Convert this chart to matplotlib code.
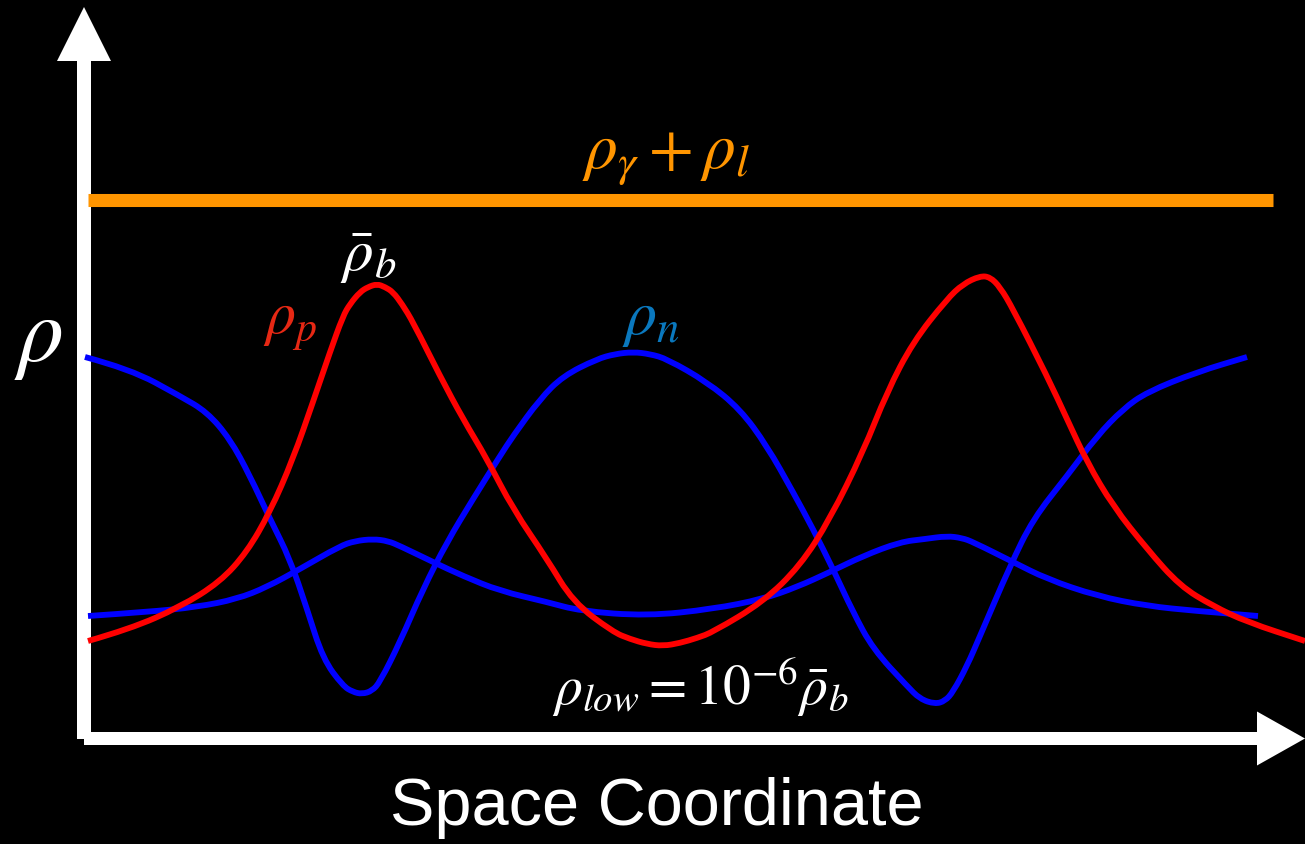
import matplotlib
matplotlib.use("Agg")
import matplotlib.pyplot as plt
from matplotlib.path import Path
from matplotlib.patches import PathPatch

plt.rcParams['mathtext.fontset'] = 'stix'

# positions along the space coordinate and densities (arbitrary units)
x_p = [4, 46, 96, 136, 163, 186, 209, 229, 246, 259, 266, 276, 284, 293, 301, 309,
       318, 329, 356, 379, 403, 429, 463, 489, 529, 546, 563, 579, 596, 613, 629,
       679, 716, 746, 779, 803, 829, 863, 879, 896, 906, 916, 929, 963, 983, 1003,
       1029, 1063, 1096, 1129, 1163, 1221]
rho_p = [98, 110, 132, 157, 187, 227, 280, 337, 387, 423, 435, 447, 452, 455, 452, 447,
         435, 417, 363, 320, 280, 230, 180, 137, 107, 100, 95, 93, 96, 101, 107,
         137, 173, 220, 287, 347, 397, 440, 455, 463, 462, 452, 430, 363, 320, 277,
         233, 190, 153, 133, 117, 98]

x_n = [1, 46, 96, 123, 146, 166, 186, 206, 223, 239, 259, 269, 278, 288, 296, 316,
       339, 363, 389, 416, 429, 456, 479, 513, 531, 549, 566, 583, 623, 656, 683,
       709, 729, 749, 769, 789, 823, 836, 851, 861, 869, 883, 896, 926, 949, 983,
       1013, 1039, 1063, 1113, 1163]
rho_n = [382, 370, 343, 327, 300, 263, 220, 180, 130, 80, 53, 47, 45, 48, 57, 97,
         150, 197, 240, 283, 303, 340, 363, 380, 385, 387, 385, 380, 357, 330, 293,
         247, 210, 170, 127, 90, 53, 40, 35, 38, 47, 73, 103, 173, 220, 263,
         303, 330, 347, 367, 382]

x_n2 = [4, 63, 113, 153, 183, 216, 256, 271, 289, 304, 316, 349, 379, 416, 463, 496,
        563, 629, 679, 713, 746, 779, 816, 841, 863, 878, 889, 929, 963, 1013, 1063,
        1113, 1174]
rho_n2 = [123, 127, 132, 140, 152, 170, 193, 198, 200, 198, 193, 177, 163, 148, 137, 128,
          123, 130, 140, 152, 167, 183, 197, 200, 203, 201, 197, 177, 160, 143, 133,
          128, 123]

# radiation + lepton density, constant in space
x_rad = [4, 1189]
rho_rad = 539


def smooth_line(ax, xs, ys, color, lw):
    # quadratic curve through the midpoints, so the polyline has no corners
    pts = list(zip(xs, ys))
    verts = [pts[0]]
    codes = [Path.MOVETO]
    for i in range(1, len(pts) - 1):
        mid = ((pts[i][0] + pts[i + 1][0]) / 2, (pts[i][1] + pts[i + 1][1]) / 2)
        verts += [pts[i], mid]
        codes += [Path.CURVE3, Path.CURVE3]
    verts.append(pts[-1])
    codes.append(Path.LINETO)
    ax.add_patch(PathPatch(Path(verts, codes), facecolor='none', edgecolor=color,
                           lw=lw, capstyle='butt', joinstyle='round'))


fig = plt.figure(figsize=(13.05, 8.45), dpi=100, facecolor='black')
ax = fig.add_axes([0, 0, 1, 1])
ax.set_facecolor('black')
ax.set_xlim(-84, 1221)
ax.set_ylim(-105, 740)
ax.axis('off')

# axes with arrow heads
ax.arrow(0, 0, 0, 732, width=14, head_width=54, head_length=54,
         length_includes_head=True, color='white', lw=0)
ax.arrow(0, 0.5, 1221, 0, width=13, head_width=54, head_length=48,
         length_includes_head=True, color='white', lw=0)

ax.plot(x_rad, [rho_rad, rho_rad], color='#FF9500', lw=9.4, solid_capstyle='butt')
smooth_line(ax, x_n2, rho_n2, '#0000FF', 4.2)
smooth_line(ax, x_n, rho_n, '#0000FF', 4.2)
smooth_line(ax, x_p, rho_p, '#FF0000', 4.2)

ax.text(-46, 403, r'$\rho$', color='white', fontsize=66, ha='center', va='center')
ax.text(206, 418, r'$\rho_p$', color='#E62814', fontsize=43, ha='center', va='center')
ax.text(284, 483, r'$\bar{\rho}_b$', color='white', fontsize=44, ha='center', va='center')
ax.text(567, 422, r'$\rho_n$', color='#0A78BE', fontsize=46, ha='center', va='center')
ax.text(582, 584, r'$\rho_\gamma + \rho_l$', color='#FF9500', fontsize=47,
        ha='center', va='center')
ax.text(617, 54, r'$\rho_{low} = 10^{-6}\bar{\rho}_b$', color='white', fontsize=40,
        ha='center', va='center')
ax.text(573, -68, 'Space Coordinate', color='white', fontsize=48,
        family='Liberation Sans', ha='center', va='center')

fig.savefig('out.png', dpi=100, facecolor='black')
